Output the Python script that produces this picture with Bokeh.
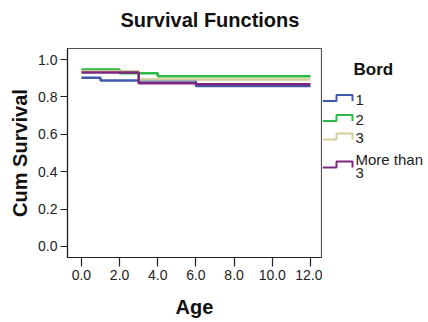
from bokeh.plotting import figure
from bokeh.models import Range1d, FixedTicker, NumeralTickFormatter, Title
from bokeh.layouts import row
from bokeh.embed import file_html
from bokeh.resources import INLINE
from bokeh.core.properties import value

# ---- data ----
categories = ["1", "2", "3", "More than 3"]
colors = ["#3E58AC", "#2EB848", "#D3CE97", "#7C287D"]

age_1 = [0.0, 1.0, 6.0, 12.0]
surv_1 = [0.902, 0.888, 0.859, 0.859]
age_2 = [0.0, 2.0, 4.0, 12.0]
surv_2 = [0.947, 0.927, 0.911, 0.911]
age_3 = [0.0, 3.0, 12.0]
surv_3 = [0.937, 0.893, 0.893]
age_4 = [0.0, 3.0, 6.0, 12.0]
surv_4 = [0.930, 0.873, 0.868, 0.868]

x_ticks = [0, 2, 4, 6, 8, 10, 12]
y_ticks = [0.0, 0.2, 0.4, 0.6, 0.8, 1.0]

series_age = [age_1, age_2, age_3, age_4]
series_surv = [surv_1, surv_2, surv_3, surv_4]

FONT = "Liberation Sans"
W, H = 428, 322
FRAME_LEFT, FRAME_RIGHT, FRAME_TOP, FRAME_BOTTOM = 67, 321, 48, 257
X0, X1 = -0.73, 12.58
Y0, Y1 = -0.059, 1.059

# ---- main chart ----
p = figure(width=FRAME_RIGHT + 1, height=H, output_backend="svg", toolbar_location=None,
           x_range=Range1d(X0, X1), y_range=Range1d(Y0, Y1),
           min_border_left=FRAME_LEFT, min_border_right=1, min_border_top=FRAME_TOP,
           min_border_bottom=H - FRAME_BOTTOM)
p.background_fill_color = "white"
p.border_fill_color = "white"
p.outline_line_color = "#555555"
p.outline_line_width = 1.2
p.grid.visible = False

# a thin blank spacer panel next to the frame lifts the title above it
p.add_layout(Title(text=" ", text_font_size="2px", standoff=14), "above")
p.add_layout(Title(text="Survival Functions", text_font=FONT, text_font_size="20px",
                   text_font_style="bold", text_color="#111111", align="left",
                   offset=53, standoff=0, vertical_align="bottom"), "above")

for ax in (p.xaxis[0], p.yaxis[0]):
    ax.axis_line_color = "#222222"
    ax.axis_line_width = 1.2
    ax.major_tick_line_color = "#222222"
    ax.major_tick_line_width = 1.2
    ax.major_tick_in = 0
    ax.minor_tick_line_color = None
    ax.major_label_text_font = FONT
    ax.major_label_text_font_size = "14px"
    ax.major_label_text_color = "#222222"
    ax.axis_label_text_font = FONT
    ax.axis_label_text_font_size = "20px"
    ax.axis_label_text_font_style = "bold"
    ax.axis_label_text_color = "#111111"
    ax.formatter = NumeralTickFormatter(format="0.0")

p.xaxis.ticker = FixedTicker(ticks=x_ticks)
p.yaxis.ticker = FixedTicker(ticks=y_ticks)
p.xaxis.major_tick_out = 9
p.yaxis.major_tick_out = 7
p.xaxis.major_label_standoff = 3
p.yaxis.major_label_standoff = 3
p.xaxis.axis_label = "Age"
p.yaxis.axis_label = "Cum Survival"
p.xaxis.axis_label_standoff = 13
p.yaxis.axis_label_standoff = 4

for ages, survs, col in zip(series_age, series_surv, colors):
    p.step(ages, survs, mode="after", line_color=col, line_width=2.5)

# ---- legend panel (its frame is aligned with the main frame by the row) ----
lg = figure(width=W - FRAME_RIGHT - 1, height=H, output_backend="svg", toolbar_location=None,
            x_range=Range1d(FRAME_RIGHT + 1, W), y_range=Range1d(FRAME_BOTTOM, FRAME_TOP),
            x_axis_type=None, y_axis_type=None,
            min_border_left=0, min_border_right=0, min_border_top=FRAME_TOP,
            min_border_bottom=H - FRAME_BOTTOM)
lg.outline_line_color = None
lg.background_fill_color = "white"
lg.border_fill_color = "white"

lg.text(x=[353], y=[69], text=["Bord"], text_font=value(FONT), text_font_size="17px",
        text_font_style="bold", text_color="#111111", text_baseline="middle")

centers = [99, 119, 137.5, 165.5]
for cat, col, c in zip(categories, colors, centers):
    low, high = c + 1.5, c - 4.5
    lg.line([322, 336, 336, 352, 352], [low, low, high, high, low], line_color=col, line_width=2)
    words = cat.split(" ")
    lines = [cat] if len(words) == 1 else [" ".join(words[:-1]), words[-1]]
    n = len(lines)
    for k, t in enumerate(lines):
        yk = c + (k - (n - 1) / 2) * 14
        lg.text(x=[355], y=[yk], text=[t], text_font=value(FONT), text_font_size="15px",
                text_color="#222222", text_baseline="middle")

layout = row(p, lg)
open("out.html", "w").write(file_html(layout, INLINE))
